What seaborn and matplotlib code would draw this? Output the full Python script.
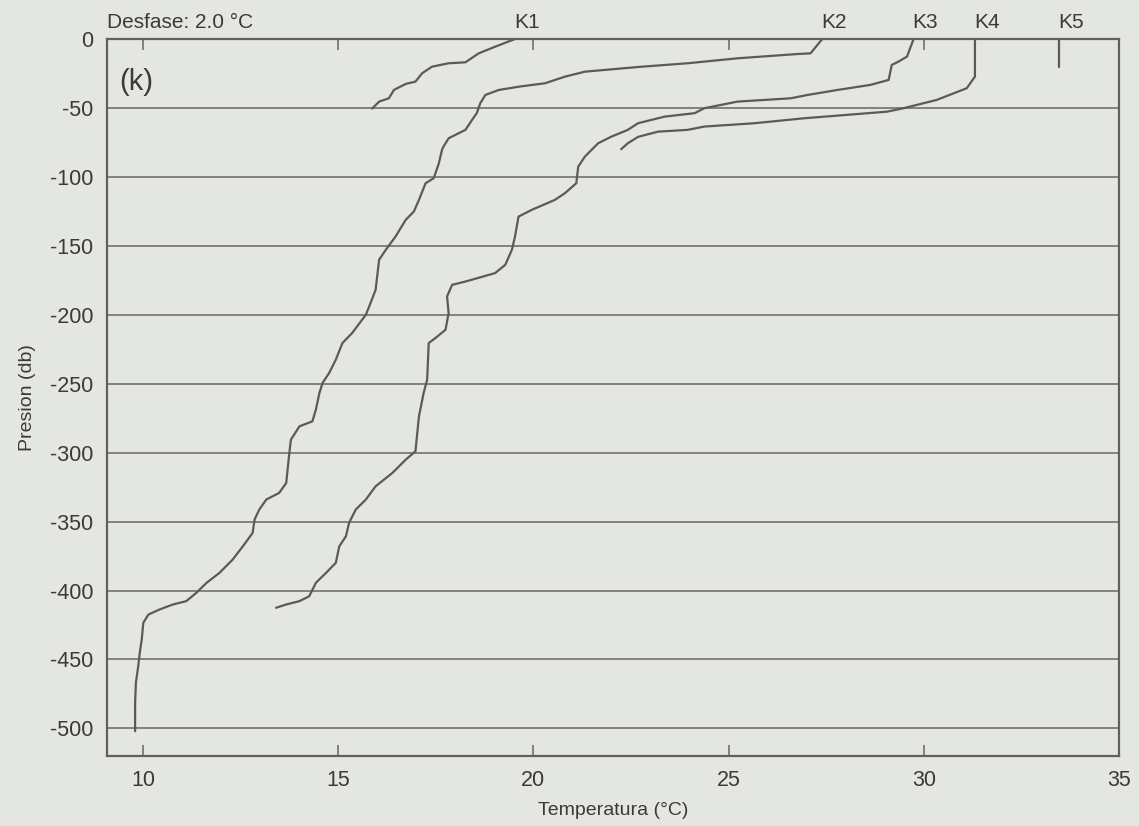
import numpy as np
import pandas as pd
import matplotlib
matplotlib.use("Agg")
import matplotlib.pyplot as plt
import seaborn as sns

# ---- data ----
stations = ["K1", "K2", "K3", "K4", "K5"]

k1_temp = [19.53, 19.02, 18.60, 18.26, 17.83, 17.40, 17.15, 16.98, 16.73, 16.43, 16.30, 16.05, 15.87]
k1_pres = [0.0, -5.6, -10.4, -16.9, -17.6, -20.1, -24.9, -30.9, -32.6, -36.9, -43.0, -45.4, -50.5]

k2_temp = [27.40, 27.10, 26.76, 25.23, 23.95, 22.68, 21.32, 20.81, 20.30, 19.62, 19.11, 18.77,
           18.64, 18.55, 18.43, 18.26, 17.83, 17.70, 17.66, 17.58, 17.45, 17.24, 17.07, 16.94,
           16.73, 16.47, 16.22, 16.05, 15.96, 15.83, 15.71, 15.36, 15.11, 14.94, 14.77, 14.60,
           14.52, 14.43, 14.34, 14.01, 13.79, 13.75, 13.67, 13.49, 13.16, 12.98, 12.86, 12.81,
           12.56, 12.30, 11.96, 11.63, 11.37, 11.11, 10.77, 10.43, 10.14, 10.01, 9.97, 9.92,
           9.88, 9.82, 9.80, 9.80]
k2_pres = [0.0, -10.4, -10.9, -14.0, -17.6, -20.3, -23.7, -27.3, -32.1, -34.6, -37.0, -40.6,
           -46.6, -53.8, -58.7, -65.9, -72.0, -78.0, -80.4, -90.1, -100.9, -104.6, -116.7, -125.1,
           -131.2, -143.3, -152.9, -160.1, -181.9, -191.5, -200.0, -213.2, -220.5, -232.6, -242.2, -249.5,
           -256.8, -268.8, -277.3, -280.9, -290.6, -300.2, -322.0, -329.2, -334.0, -341.3, -348.5, -358.2,
           -367.9, -377.5, -387.2, -394.4, -401.6, -407.7, -410.1, -413.7, -417.4, -423.4, -435.5, -445.1,
           -454.8, -466.9, -481.4, -502.0]

k3_temp = [29.74, 29.65, 29.57, 29.35, 29.18, 29.10, 28.63, 27.78, 27.02, 26.59, 25.23, 24.38,
           24.13, 23.36, 22.68, 22.42, 22.00, 21.66, 21.32, 21.15, 21.10, 20.81, 20.55, 19.96,
           19.62, 19.53, 19.45, 19.28, 19.02, 18.26, 17.92, 17.79, 17.83, 17.75, 17.49, 17.32,
           17.28, 17.19, 17.07, 16.98, 16.73, 16.39, 15.96, 15.71, 15.45, 15.28, 15.20, 15.03,
           14.94, 14.69, 14.43, 14.26, 14.01, 13.67, 13.41]
k3_pres = [0.0, -6.7, -12.8, -16.4, -18.8, -29.7, -33.3, -37.0, -40.6, -43.0, -45.4, -50.2,
           -53.8, -56.3, -61.1, -65.9, -70.8, -75.6, -85.3, -92.5, -104.6, -111.8, -116.7, -123.9,
           -128.8, -143.3, -152.9, -163.8, -169.8, -175.9, -178.3, -186.7, -198.8, -210.9, -216.9, -220.5,
           -247.1, -256.7, -273.7, -299.0, -305.1, -314.7, -324.4, -334.0, -341.3, -350.9, -360.6, -367.9,
           -379.9, -387.2, -394.4, -404.1, -407.7, -410.1, -412.5]

k4_temp = [31.31, 31.31, 31.10, 30.33, 29.48, 29.06, 26.93, 25.66, 24.38, 23.95, 23.19, 22.68, 22.42, 22.25]
k4_pres = [0.0, -27.3, -35.7, -44.2, -50.2, -52.7, -57.5, -61.1, -63.5, -65.9, -67.2, -71.0, -75.6, -79.9]

k5_temp = [33.47, 33.47]
k5_pres = [0.0, -20.0]

x_ticks = [10, 15, 20, 25, 30, 35]
y_ticks = [0, -50, -100, -150, -200, -250, -300, -350, -400, -450, -500]

title_text = "Desfase: 2.0 °C"
panel_text = "(k)"
x_label = "Temperatura (°C)"
y_label = "Presion (db)"

profiles = [(k1_temp, k1_pres), (k2_temp, k2_pres), (k3_temp, k3_pres),
            (k4_temp, k4_pres), (k5_temp, k5_pres)]

frames = []
for name, (t, p) in zip(stations, profiles):
    frames.append(pd.DataFrame({"Temperatura": t, "Presion": p, "Estacion": name,
                                "orden": np.arange(len(t))}))
df = pd.concat(frames, ignore_index=True)

# ---- style ----
bg = "#e4e6e1"
line_c = "#5a5a5a"
grid_c = "#707070"
text_c = "#3a3a3a"

sns.set_theme(style="white")
plt.rcParams["font.family"] = ["Liberation Sans", "DejaVu Sans"]

fig = plt.figure(figsize=(11.39, 8.26), dpi=100, facecolor=bg)
ax = fig.add_axes([107 / 1139, 1 - 756 / 826, (1119 - 107) / 1139, (756 - 39) / 826])
ax.set_facecolor(bg)

for name in stations:
    sub = df[df["Estacion"] == name]
    sns.lineplot(data=sub, x="Temperatura", y="Presion", sort=False, estimator=None,
                 color=line_c, linewidth=1.6, ax=ax)

ax.set_xlim(9.08, 35.0)
ax.set_ylim(-520, 0)

ax.set_xticks(x_ticks)
ax.set_xticklabels([str(v) for v in x_ticks])
ax.set_yticks(y_ticks)
ax.set_yticklabels([str(v) for v in y_ticks])

ax.yaxis.grid(True, color=grid_c, linewidth=1.2)
ax.xaxis.grid(False)
ax.set_axisbelow(True)

ax.tick_params(axis="x", which="both", direction="in", length=8, width=1.2,
               color=grid_c, top=True, bottom=True, labelsize=15.5, labelcolor=text_c, pad=10)
ax.tick_params(axis="y", length=0, labelsize=15.5, labelcolor=text_c, pad=10)

for s in ax.spines.values():
    s.set_color("#606060")
    s.set_linewidth(1.6)
    s.set_visible(True)

ax.set_xlabel(x_label, fontsize=14, color=text_c, labelpad=8)
ax.set_ylabel(y_label, fontsize=14, color=text_c, labelpad=10)

# station labels above the top axis, at the surface temperature of each profile
for name, (t, p) in zip(stations, profiles):
    ax.annotate(name, xy=(t[0] + 0.3, 1.0), xycoords=("data", "axes fraction"),
                xytext=(0, 5), textcoords="offset points", ha="center", va="bottom",
                fontsize=15, color=text_c)

ax.annotate(title_text, xy=(0.0, 1.0), xycoords="axes fraction", xytext=(0, 5),
            textcoords="offset points", ha="left", va="bottom", fontsize=15, color=text_c)
ax.text(0.012, 0.94, panel_text, transform=ax.transAxes, ha="left", va="center",
        fontsize=21, color=text_c)

fig.savefig("out.png", dpi=100, facecolor=bg)
